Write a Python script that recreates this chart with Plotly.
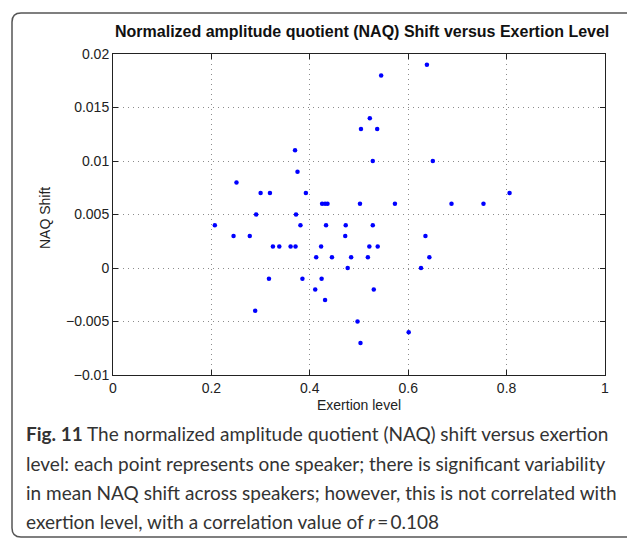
import plotly.graph_objects as go

# ---- data ----
exertion = [0.370, 0.375, 0.251, 0.300, 0.319, 0.392, 0.425, 0.431, 0.436, 0.502,
            0.291, 0.372, 0.504, 0.545, 0.638, 0.522, 0.537, 0.528, 0.650, 0.573,
            0.688, 0.753, 0.806, 0.207, 0.381, 0.433, 0.473, 0.528, 0.245, 0.278,
            0.472, 0.635, 0.325, 0.338, 0.361, 0.371, 0.423, 0.521, 0.538, 0.413,
            0.445, 0.484, 0.518, 0.643, 0.477, 0.626, 0.317, 0.385, 0.424, 0.411,
            0.530, 0.431, 0.289, 0.497, 0.503, 0.601]
naq_shift = [0.011, 0.009, 0.008, 0.007, 0.007, 0.007, 0.006, 0.006, 0.006, 0.006,
             0.005, 0.005, 0.013, 0.018, 0.019, 0.014, 0.013, 0.010, 0.010, 0.006,
             0.006, 0.006, 0.007, 0.004, 0.004, 0.004, 0.004, 0.004, 0.003, 0.003,
             0.003, 0.003, 0.002, 0.002, 0.002, 0.002, 0.002, 0.002, 0.002, 0.001,
             0.001, 0.001, 0.001, 0.001, 0.000, 0.000, -0.001, -0.001, -0.001, -0.002,
             -0.002, -0.003, -0.004, -0.005, -0.007, -0.006]

x_tick_vals = [0, 0.2, 0.4, 0.6, 0.8, 1]
x_tick_text = ["0", "0.2", "0.4", "0.6", "0.8", "1"]
y_tick_vals = [-0.01, -0.005, 0, 0.005, 0.01, 0.015, 0.02]
y_tick_text = ["\u22120.01", "\u22120.005", "0", "0.005", "0.01", "0.015", "0.02"]

title_text = "Normalized amplitude quotient (NAQ) Shift versus Exertion Level"
x_title = "Exertion level"
y_title = "NAQ Shift"
caption_lines = [
    "<b>Fig. 11</b> The normalized amplitude quotient (NAQ) shift versus exertion",
    "level: each point represents one speaker; there is significant variability",
    "in mean NAQ shift across speakers; however, this is not correlated with",
    "exertion level, with a correlation value of <i>r</i>\u2009=\u20090.108",
]

# ---- layout geometry (pixels) ----
W, H = 627, 538
L, R, T, B = 113, 605, 54, 375
AX_FONT = "Liberation Sans, Arial, sans-serif"


def px(x):
    return (x - L) / (R - L)


def py(y):
    return (B - y) / (B - T)


fig = go.Figure()
fig.add_trace(go.Scatter(
    x=exertion, y=naq_shift, mode="markers",
    marker=dict(color="#0000ff", size=4.5, line=dict(width=0)),
    showlegend=False, hoverinfo="x+y"))

axis_common = dict(
    showline=True, linecolor="#222", linewidth=1, mirror="ticks",
    ticks="inside", ticklen=5, tickcolor="#222",
    showgrid=True, gridcolor="#8c8c8c", griddash="1px,4px", gridwidth=1,
    zeroline=False, tickfont=dict(family=AX_FONT, size=14, color="#222"),
)

fig.update_xaxes(range=[0, 1], tickvals=x_tick_vals, ticktext=x_tick_text, **axis_common)
fig.update_yaxes(range=[-0.01, 0.02], tickvals=y_tick_vals, ticktext=y_tick_text, **axis_common)

annotations = [
    dict(text="<b>" + title_text + "</b>", xref="paper", yref="paper",
         x=px(362), y=py(32), xanchor="center", yanchor="middle", showarrow=False,
         font=dict(family=AX_FONT, size=16, color="#111")),
    dict(text=x_title, xref="paper", yref="paper",
         x=px(359), y=py(405), xanchor="center", yanchor="middle", showarrow=False,
         font=dict(family=AX_FONT, size=14, color="#222")),
    dict(text=y_title, xref="paper", yref="paper", textangle=-90,
         x=px(45), y=py(218), xanchor="center", yanchor="middle", showarrow=False,
         font=dict(family=AX_FONT, size=14, color="#222")),
]

caption_y = [434, 463, 492, 521]
for line, yy in zip(caption_lines, caption_y):
    annotations.append(dict(
        text=line, xref="paper", yref="paper", x=px(24), y=py(yy),
        xanchor="left", yanchor="middle", showarrow=False,
        font=dict(family="Lato, Open Sans, sans-serif", size=19, color="#333")))

# rounded frame around figure + caption
fl, ft, fr, fb, rad = 12, 13, 640, 537, 9
path = (f"M {px(fl)},{py(ft + rad)} Q {px(fl)},{py(ft)} {px(fl + rad)},{py(ft)} "
        f"L {px(fr)},{py(ft)} L {px(fr)},{py(fb)} L {px(fl + rad)},{py(fb)} "
        f"Q {px(fl)},{py(fb)} {px(fl)},{py(fb - rad)} Z")

fig.update_layout(
    width=W, height=H,
    margin=dict(l=L, r=W - R, t=T, b=H - B),
    plot_bgcolor="white", paper_bgcolor="white",
    annotations=annotations,
    shapes=[dict(type="path", path=path, xref="paper", yref="paper",
                 line=dict(color="#555", width=1.5), layer="below")],
)

fig.write_html("out.html", config={"displayModeBar": False},
               post_script="document.body.style.margin='0';")
